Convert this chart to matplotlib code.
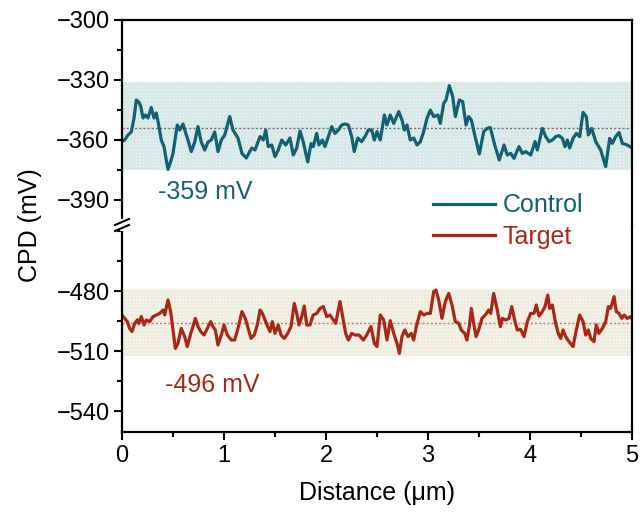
import matplotlib
matplotlib.use('Agg')
import matplotlib.pyplot as plt
from matplotlib.lines import Line2D
from matplotlib.ticker import MultipleLocator

plt.rcParams['font.family'] = ['Liberation Sans', 'DejaVu Sans']

# CPD line profiles (distance in um, CPD in mV)
control_x = [0.000, 0.026, 0.059, 0.091, 0.118, 0.140, 0.164, 0.183, 0.206, 0.228, 0.255, 0.287, 0.314, 0.336,
             0.360, 0.385, 0.412, 0.434, 0.451, 0.477, 0.500, 0.523, 0.542, 0.566, 0.598, 0.625, 0.647, 0.679,
             0.713, 0.745, 0.777, 0.811, 0.843, 0.875, 0.909, 0.941, 0.974, 1.007, 1.056, 1.088, 1.137, 1.176,
             1.219, 1.252, 1.272, 1.304, 1.353, 1.385, 1.409, 1.434, 1.468, 1.500, 1.532, 1.566, 1.605, 1.647,
             1.679, 1.713, 1.745, 1.777, 1.821, 1.853, 1.875, 1.909, 1.931, 1.964, 1.990, 2.023, 2.056, 2.088,
             2.121, 2.154, 2.186, 2.219, 2.252, 2.277, 2.311, 2.350, 2.382, 2.415, 2.448, 2.474, 2.500, 2.532,
             2.572, 2.598, 2.630, 2.664, 2.713, 2.745, 2.768, 2.794, 2.826, 2.860, 2.892, 2.925, 2.958, 2.990,
             3.023, 3.056, 3.098, 3.121, 3.154, 3.176, 3.209, 3.242, 3.268, 3.307, 3.340, 3.373, 3.399, 3.425,
             3.458, 3.503, 3.546, 3.578, 3.611, 3.654, 3.699, 3.745, 3.777, 3.811, 3.843, 3.892, 3.925, 3.958,
             4.007, 4.049, 4.072, 4.121, 4.154, 4.186, 4.219, 4.252, 4.284, 4.317, 4.343, 4.366, 4.389, 4.422,
             4.454, 4.487, 4.520, 4.552, 4.572, 4.605, 4.644, 4.693, 4.742, 4.781, 4.807, 4.840, 4.873, 4.905,
             4.954, 5.000]
control_y = [-360.8, -360.0, -357.5, -356.0, -349.0, -340.0, -341.0, -343.0, -349.0, -347.5, -349.0, -343.7, -349.0, -346.5,
             -352.5, -360.0, -363.3, -370.0, -374.7, -370.8, -366.7, -359.0, -352.5, -355.0, -352.0, -356.6, -360.0, -365.8,
             -361.0, -353.3, -361.0, -365.0, -361.0, -360.0, -356.0, -365.8, -360.0, -357.5, -348.3, -355.0, -359.0, -366.7,
             -369.0, -365.8, -364.0, -365.0, -358.3, -360.0, -355.0, -363.3, -362.5, -368.3, -365.0, -360.0, -362.5, -359.0,
             -367.5, -364.0, -355.5, -361.0, -371.0, -361.8, -363.3, -356.7, -362.5, -360.0, -363.3, -358.3, -353.3, -356.7,
             -355.0, -352.5, -352.0, -352.5, -358.3, -365.8, -359.0, -360.8, -358.3, -355.0, -355.0, -360.0, -355.8, -360.0,
             -347.5, -352.5, -347.5, -351.7, -345.8, -350.0, -355.0, -352.5, -360.0, -359.0, -362.5, -360.8, -355.8, -349.2,
             -345.0, -348.3, -347.5, -351.7, -341.7, -340.0, -332.8, -338.3, -348.3, -340.0, -340.8, -352.5, -348.3, -350.0,
             -357.5, -367.0, -355.8, -354.2, -353.8, -362.5, -370.0, -362.5, -367.5, -366.7, -369.2, -363.3, -366.7, -365.8,
             -367.5, -360.8, -365.0, -354.2, -358.3, -360.8, -360.0, -358.3, -357.8, -359.2, -363.3, -360.0, -364.0, -359.2,
             -356.7, -358.3, -346.2, -348.3, -357.5, -354.2, -360.8, -365.0, -373.3, -359.2, -361.7, -358.3, -356.2, -361.7,
             -362.5, -364.0]

target_x = [0.000, 0.026, 0.052, 0.075, 0.098, 0.125, 0.150, 0.164, 0.189, 0.216, 0.238, 0.272, 0.304, 0.336,
            0.370, 0.402, 0.419, 0.451, 0.477, 0.500, 0.523, 0.549, 0.581, 0.615, 0.640, 0.674, 0.696, 0.719,
            0.745, 0.772, 0.804, 0.836, 0.870, 0.892, 0.915, 0.941, 0.974, 1.000, 1.032, 1.072, 1.105, 1.137,
            1.176, 1.209, 1.242, 1.265, 1.297, 1.330, 1.353, 1.376, 1.402, 1.428, 1.451, 1.474, 1.500, 1.532,
            1.559, 1.591, 1.625, 1.657, 1.689, 1.713, 1.735, 1.762, 1.787, 1.811, 1.843, 1.875, 1.909, 1.941,
            1.974, 2.007, 2.039, 2.062, 2.095, 2.137, 2.170, 2.193, 2.219, 2.252, 2.284, 2.324, 2.366, 2.399,
            2.441, 2.474, 2.500, 2.532, 2.566, 2.598, 2.630, 2.664, 2.696, 2.719, 2.745, 2.772, 2.804, 2.836,
            2.860, 2.885, 2.925, 2.958, 2.990, 3.023, 3.056, 3.078, 3.105, 3.137, 3.170, 3.203, 3.235, 3.268,
            3.301, 3.326, 3.360, 3.382, 3.405, 3.425, 3.448, 3.471, 3.497, 3.529, 3.562, 3.595, 3.615, 3.644,
            3.676, 3.709, 3.729, 3.762, 3.794, 3.821, 3.853, 3.875, 3.909, 3.941, 3.974, 4.007, 4.039, 4.062,
            4.088, 4.121, 4.147, 4.174, 4.193, 4.219, 4.252, 4.277, 4.301, 4.324, 4.350, 4.382, 4.422, 4.454,
            4.487, 4.520, 4.546, 4.572, 4.595, 4.627, 4.650, 4.676, 4.709, 4.742, 4.768, 4.791, 4.824, 4.846,
            4.873, 4.899, 4.922, 4.954, 4.987, 5.000]
target_y = [-492.0, -493.7, -495.3, -498.7, -500.3, -496.2, -494.5, -496.2, -492.8, -497.0, -494.5, -495.3, -492.8, -492.0,
            -491.2, -489.5, -492.0, -484.5, -490.3, -499.5, -508.7, -506.2, -498.7, -502.8, -507.8, -501.2, -497.8, -493.7,
            -497.8, -500.3, -502.0, -498.7, -495.3, -497.8, -499.5, -507.0, -502.0, -497.0, -502.0, -504.5, -504.5, -498.7,
            -490.3, -493.7, -499.5, -503.7, -502.0, -496.2, -489.5, -491.2, -494.5, -497.8, -500.3, -495.3, -501.2, -497.0,
            -502.0, -503.7, -501.2, -497.8, -486.2, -491.2, -497.0, -492.8, -487.5, -497.0, -497.0, -492.0, -491.2, -488.7,
            -487.8, -492.8, -492.0, -493.7, -496.2, -485.3, -494.5, -501.2, -504.5, -501.2, -502.0, -502.0, -504.5, -502.0,
            -497.8, -506.2, -507.8, -492.0, -494.5, -504.5, -494.8, -501.2, -506.2, -511.2, -502.8, -499.5, -502.8, -501.2,
            -504.5, -497.8, -490.3, -492.0, -491.2, -491.2, -480.3, -479.5, -484.5, -493.7, -485.3, -481.2, -487.0, -495.3,
            -496.2, -499.5, -501.2, -504.5, -497.8, -488.7, -496.2, -502.8, -499.5, -493.7, -492.0, -489.5, -491.2, -481.2,
            -488.7, -497.8, -493.7, -494.5, -493.7, -487.8, -495.3, -499.5, -499.2, -502.8, -495.3, -491.2, -491.2, -487.0,
            -492.5, -490.3, -487.8, -482.0, -488.7, -487.0, -496.2, -501.2, -503.7, -499.5, -502.8, -505.3, -507.8, -499.5,
            -492.0, -495.3, -502.0, -499.5, -503.7, -505.3, -497.0, -501.2, -498.7, -495.3, -487.8, -488.7, -482.8, -490.3,
            -491.2, -493.7, -492.0, -493.7, -492.8, -494.0]

# mean lines and shaded ranges
control_mean = -354
control_band = (-375, -331)
target_mean = -496
target_band = (-512.5, -479)

control_color = '#136070'
target_color = '#a82818'

fig = plt.figure(figsize=(6.43, 5.20), dpi=100)

# broken y axis: two stacked axes with the same mV/pixel scale
left, right = 122 / 643, 632 / 643
y_top, y_brk, y_bot = 1 - 20 / 520, 1 - 225 / 520, 1 - 432 / 520
ax_top = fig.add_axes([left, y_brk, right - left, y_top - y_brk])
ax_bot = fig.add_axes([left, y_bot, right - left, y_brk - y_bot])

ax_top.axhspan(*control_band, facecolor='#e4f0f0', edgecolor='#d6e7e7', hatch='+++++', linewidth=0, zorder=0)
ax_bot.axhspan(*target_band, facecolor='#f7f6ec', edgecolor='#eeecdf', hatch='+++++', linewidth=0, zorder=0)
ax_top.axhline(control_mean, color='#707070', linestyle=(0, (1.5, 1.5)), linewidth=1.0, zorder=1)
ax_bot.axhline(target_mean, color='#d07070', linestyle=(0, (1.5, 1.5)), linewidth=1.0, zorder=1)

ax_top.plot(control_x, control_y, color=control_color, linewidth=2.3, zorder=2)
ax_bot.plot(target_x, target_y, color=target_color, linewidth=2.3, zorder=2)

ax_top.set_ylim(-402.5, -300)
ax_bot.set_ylim(-550.5, -447)
for ax in (ax_top, ax_bot):
    ax.set_xlim(0, 5)
    ax.yaxis.set_minor_locator(MultipleLocator(15))
    ax.xaxis.set_major_locator(MultipleLocator(1))
    ax.xaxis.set_minor_locator(MultipleLocator(0.5))
    ax.tick_params(which='major', direction='out', length=6, width=1.5, labelsize=17, pad=3)
    ax.tick_params(which='minor', direction='out', length=3.5, width=1.5)
    for s in ax.spines.values():
        s.set_linewidth(1.6)
ax_top.set_yticks([-390, -360, -330, -300])
ax_bot.set_yticks([-540, -510, -480])

ax_top.spines['bottom'].set_visible(False)
ax_top.tick_params(which='both', bottom=False, labelbottom=False)
ax_bot.spines['top'].set_visible(False)

ax_top.text(0.35, -386, '-359 mV', color=control_color, fontsize=18, va='center')
ax_bot.text(0.42, -527, '-496 mV', color=target_color, fontsize=18, va='center')

# axis break marks on the left spine
xb, yb = left, y_brk
fig.add_artist(Line2D([xb, xb], [yb - 4 / 520, yb + 4 / 520], color='white', linewidth=3))
for dy in (-3 / 520, 3 / 520):
    fig.add_artist(Line2D([xb - 7 / 643, xb + 7 / 643], [yb + dy - 3 / 520, yb + dy + 3 / 520],
                          color='black', linewidth=1.5))

handles = [Line2D([], [], color=control_color, linewidth=2.3, label='Control'),
           Line2D([], [], color=target_color, linewidth=2.3, label='Target')]
fig.legend(handles=handles, loc='center left', bbox_to_anchor=(410 / 643, 1 - 221 / 520), frameon=False,
           fontsize=18, handlelength=2.5, handletextpad=0.3, labelspacing=0.3, labelcolor='linecolor')

fig.text(30 / 643, 1 - 225 / 520, 'CPD (mV)', rotation=90, fontsize=18, ha='center', va='center')
fig.text(377 / 643, 1 - 493 / 520, 'Distance (\u03bcm)', fontsize=18, ha='center', va='center')

fig.savefig('out.png', dpi=100)
